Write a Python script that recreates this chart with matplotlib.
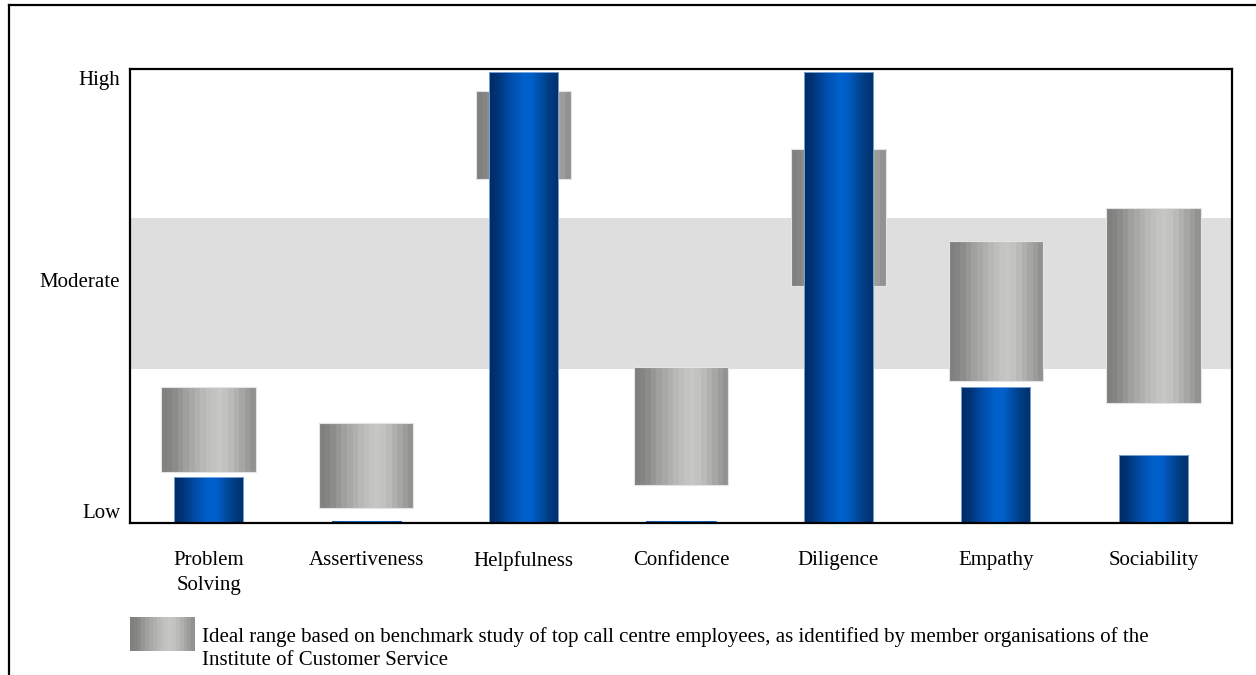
import numpy as np
import matplotlib
matplotlib.use("Agg")
import matplotlib.pyplot as plt
from matplotlib.lines import Line2D

# ---- data ----
categories = ["Problem\nSolving", "Assertiveness", "Helpfulness", "Confidence",
              "Diligence", "Empathy", "Sociability"]
score = [10.1, 0.6, 99.3, 0.6, 99.3, 30.0, 15.0]          # blue bars (0-100 scale)
ideal_low = [11.3, 3.4, 75.7, 8.4, 52.2, 31.4, 26.4]      # grey range bottoms
ideal_high = [30.0, 22.1, 95.2, 34.3, 82.3, 62.2, 69.3]   # grey range tops
moderate_band = (33.9, 67.2)
ytick_values = [2.8, 53.5, 98.0]
ytick_labels = ["Low", "Moderate", "High"]
legend_text = ("Ideal range based on benchmark study of top call centre employees, as identified by member organisations of the\n"
               "Institute of Customer Service")

plt.rcParams['font.family'] = ['Liberation Serif', 'DejaVu Serif']

W, H = 1256, 675
fig = plt.figure(figsize=(W / 100, H / 100), dpi=100)

ax_l, ax_r, ax_t, ax_b = 130, 1232, 68.7, 523.3
ax = fig.add_axes([ax_l / W, 1 - ax_b / H, (ax_r - ax_l) / W, (ax_b - ax_t) / H])
ax.set_xlim(-0.5, len(categories) - 0.5)
ax.set_ylim(0, 100)

# gradients
def blue_gradient(n=200):
    stops = [0.0, 0.12, 0.3, 0.5, 0.62, 0.85, 1.0]
    cols = np.array([[0.00, 0.17, 0.40],
                     [0.00, 0.20, 0.46],
                     [0.00, 0.30, 0.66],
                     [0.00, 0.38, 0.80],
                     [0.00, 0.37, 0.78],
                     [0.00, 0.24, 0.52],
                     [0.00, 0.19, 0.42]])
    t = np.linspace(0, 1, n)
    arr = np.stack([np.interp(t, stops, cols[:, k]) for k in range(3)], axis=-1)
    return arr[np.newaxis, :, :]

def grey_gradient():
    vals = np.array([0x80, 0x84, 0x8c, 0x96, 0xa0, 0xa8, 0xb0, 0xb8, 0xbe, 0xc3,
                     0xc6, 0xc2, 0xba, 0xb0, 0xa6, 0x9c, 0x92]) / 255.0
    arr = np.stack([vals, vals, vals * 0.99], axis=-1)
    return arr[np.newaxis, :, :]

# moderate band
ax.axhspan(moderate_band[0], moderate_band[1], color='#dedede', zorder=0, lw=0)

x = np.arange(len(categories))
grey_w, blue_w = 0.60, 0.44

g_bars = ax.bar(x, np.array(ideal_high) - np.array(ideal_low), bottom=ideal_low,
                width=grey_w, color='none', edgecolor='#e4e4e4', linewidth=0.8, zorder=2)
for b in g_bars:
    x0, y0, w, h = b.get_x(), b.get_y(), b.get_width(), b.get_height()
    im = ax.imshow(grey_gradient(), extent=[x0, x0 + w, y0, y0 + h], aspect='auto',
                   interpolation='nearest', zorder=1.5)
    im.set_clip_path(b)

b_bars = ax.bar(x, score, width=blue_w, color='none', edgecolor='#8fb4de',
                linewidth=0.6, zorder=4)
for b, v in zip(b_bars, score):
    x0, y0, w, h = b.get_x(), b.get_y(), b.get_width(), b.get_height()
    if v < 2:
        b.set_edgecolor('#1f6fd0')
    im = ax.imshow(blue_gradient(), extent=[x0, x0 + w, y0, y0 + h], aspect='auto',
                   interpolation='bilinear', zorder=3)
    im.set_clip_path(b)

ax.set_xlim(-0.5, len(categories) - 0.5)
ax.set_ylim(0, 100)

ax.set_yticks(ytick_values)
ax.set_yticklabels(ytick_labels, fontsize=15)
ax.set_xticks(x)
ax.set_xticklabels(categories, fontsize=15, linespacing=1.4)
ax.tick_params(axis='y', length=0, pad=7)
ax.tick_params(axis='x', length=0, pad=20)
for s in ax.spines.values():
    s.set_linewidth(1.6)
    s.set_color('black')
    s.set_zorder(6)

# legend swatch
sw = fig.add_axes([130 / W, 1 - 650.7 / H, 65 / W, 33.4 / H])
sw.imshow(grey_gradient(), aspect='auto', interpolation='nearest')
sw.set_axis_off()
fig.text(202 / W, 1 - 627.5 / H, legend_text, fontsize=15, va='top', ha='left',
         linespacing=1.25)

# figure border (top and left visible)
fig.add_artist(Line2D([9 / W, 9 / W], [0, 1 - 5 / H], transform=fig.transFigure,
                      color='black', lw=1.6))
fig.add_artist(Line2D([9 / W, 1], [1 - 5 / H, 1 - 5 / H], transform=fig.transFigure,
                      color='black', lw=1.6))

fig.savefig("out.png", dpi=100)
